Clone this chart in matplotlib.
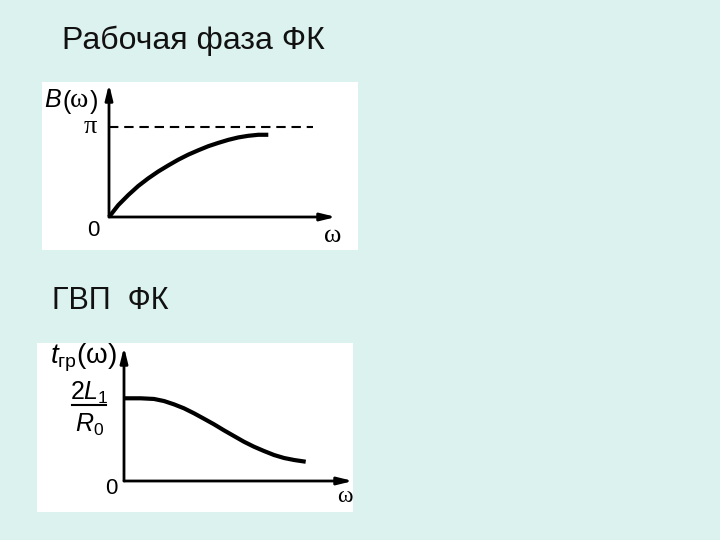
import numpy as np
import matplotlib
matplotlib.use('Agg')
import matplotlib.pyplot as plt

plt.rcParams['font.family'] = ['Liberation Sans', 'DejaVu Sans']
plt.rcParams['mathtext.fontset'] = 'custom'
plt.rcParams['mathtext.rm'] = 'Liberation Sans'
plt.rcParams['mathtext.it'] = 'Liberation Sans:italic'

# working phase B(w); w normalised to end of curve, B in radians
omega_phase = [0, 0.058, 0.121, 0.184, 0.247, 0.309, 0.372, 0.435, 0.498,
               0.561, 0.623, 0.686, 0.749, 0.812, 0.874, 0.937, 1.0]
phase = [0, 0.413, 0.766, 1.084, 1.352, 1.588, 1.800, 2.001, 2.178,
         2.330, 2.471, 2.587, 2.693, 2.778, 2.834, 2.870, 2.870]
phase_limit = np.pi

# group delay t_gr(w), in units of 2L1/R0
omega_delay = [0, 0.092, 0.165, 0.220, 0.275, 0.330, 0.385, 0.440, 0.495,
               0.550, 0.605, 0.660, 0.715, 0.770, 0.826, 0.881, 0.936, 1.0]
delay = [1.0, 1.0, 0.992, 0.967, 0.927, 0.879, 0.819, 0.753, 0.686,
         0.613, 0.544, 0.475, 0.415, 0.363, 0.314, 0.278, 0.254, 0.233]

titles = ['Рабочая фаза ФК', 'ГВП  ФК']

BG = '#dcf2ef'
W, H = 720, 540


def fpos(x, y):
    return x / W, 1 - y / H


def panel(fig, box, origin, sx, sy):
    # box in pixels (left, top, right, bottom), origin in pixels, sx/sy = px per unit
    l, t, r, b = box
    ax = fig.add_axes([l / W, 1 - b / H, (r - l) / W, (b - t) / H])
    ax.set_facecolor('white')
    ax.set_xlim((l - origin[0]) / sx, (r - origin[0]) / sx)
    ax.set_ylim((origin[1] - b) / sy, (origin[1] - t) / sy)
    for s in ax.spines.values():
        s.set_visible(False)
    ax.set_xticks([])
    ax.set_yticks([])
    return ax


def axes_arrows(ax, xend, yend):
    style = dict(arrowstyle='-|>,head_length=0.9,head_width=0.22', lw=2,
                 color='black', shrinkA=0, shrinkB=0)
    ax.annotate('', xy=(xend, 0), xytext=(0, 0), arrowprops=style, annotation_clip=False)
    ax.annotate('', xy=(0, yend), xytext=(0, 0), arrowprops=style, annotation_clip=False)


fig = plt.figure(figsize=(7.2, 5.4), dpi=100, facecolor=BG)

# titles
fig.text(*fpos(62, 49), titles[0], fontsize=23, va='baseline', color='#111111')
fig.text(*fpos(52, 309), titles[1], fontsize=22, va='baseline', color='#111111')

# top panel: phase
sx, sy = 159.3, 90.0 / np.pi
ax1 = panel(fig, (42, 82, 358, 250), (109, 217), sx, sy)
axes_arrows(ax1, (336 - 109) / sx, (217 - 84) / sy)
ax1.plot([0, (313 - 109) / sx], [phase_limit, phase_limit], color='black', lw=1.5,
         ls=(0, (4.5, 2.8)))
ax1.plot(omega_phase, phase, color='black', lw=3, solid_capstyle='butt')

fig.text(*fpos(44, 107), 'B', fontsize=18, style='italic', va='baseline')
fig.text(*fpos(62, 109), '(', fontsize=18, va='baseline')
fig.text(*fpos(70, 107), 'ω', fontsize=20, family='Liberation Serif', va='baseline')
fig.text(*fpos(90, 109), ')', fontsize=18, va='baseline')
fig.text(*fpos(90, 127), 'π', fontsize=19, family='Liberation Serif', ha='center', va='center')
fig.text(*fpos(93, 230), '0', fontsize=16, ha='center', va='center')
fig.text(*fpos(333, 236), 'ω', fontsize=19, family='Liberation Serif', ha='center', va='center')

# bottom panel: group delay
sx2, sy2 = 181.7, 82.7
ax2 = panel(fig, (37, 343, 353, 512), (124, 481), sx2, sy2)
axes_arrows(ax2, (353 - 124) / sx2, (481 - 347) / sy2)
ax2.plot(omega_delay, delay, color='black', lw=3, solid_capstyle='butt')

fig.text(*fpos(50, 364), r'$t_{\mathrm{гр}}(\mathrm{ω})$', fontsize=20, va='baseline')
fig.text(*fpos(89, 400), r'$2L_1$', fontsize=18, ha='center', va='baseline')
fig.add_artist(plt.Line2D([72 / W, 106 / W], [1 - 405 / H, 1 - 405 / H], color='black', lw=1.5))
fig.text(*fpos(90, 432), r'$R_0$', fontsize=18, ha='center', va='baseline')
fig.text(*fpos(111, 489), '0', fontsize=16, ha='center', va='center')
fig.text(*fpos(345, 497), 'ω', fontsize=17, family='Liberation Serif', ha='center', va='center')

fig.savefig('out.png', dpi=100, facecolor=BG)
